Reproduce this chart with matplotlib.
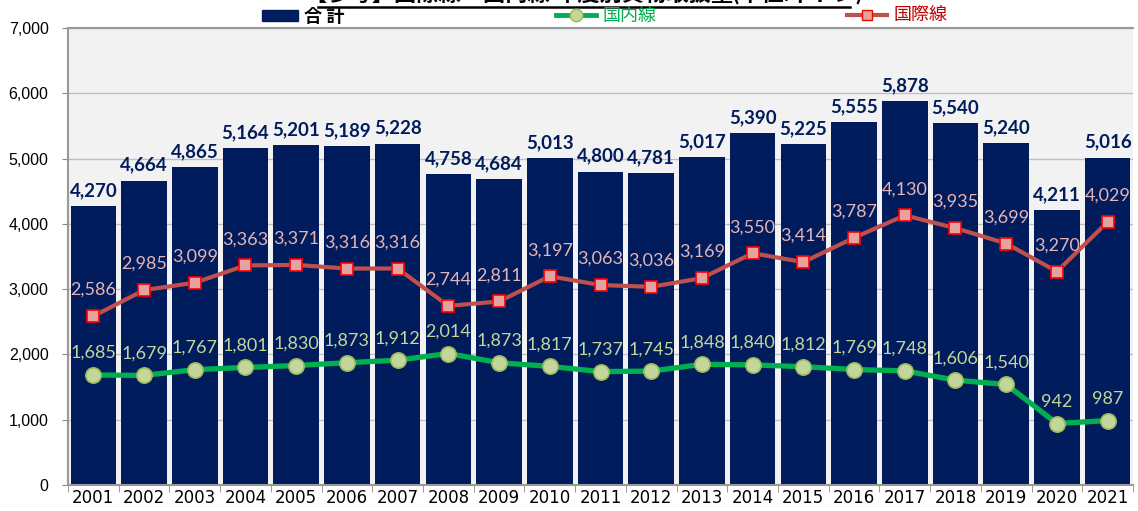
"""年度別 貨物取扱量（合計・国内線・国際線）棒グラフ＋折れ線。"""
import matplotlib
matplotlib.use("Agg")
import matplotlib.pyplot as plt
from matplotlib.lines import Line2D
from matplotlib.patches import Patch
from matplotlib.ticker import FuncFormatter, FixedLocator

plt.rcParams["font.family"] = ["Lato", "Noto Sans CJK JP", "DejaVu Sans"]

years = [str(y) for y in range(2001, 2022)]
total = [4270, 4664, 4865, 5164, 5201, 5189, 5228, 4758, 4684, 5013, 4800,
         4781, 5017, 5390, 5225, 5555, 5878, 5540, 5240, 4211, 5016]
intl = [2586, 2985, 3099, 3363, 3371, 3316, 3316, 2744, 2811, 3197, 3063,
        3036, 3169, 3550, 3414, 3787, 4130, 3935, 3699, 3270, 4029]
dom = [1685, 1679, 1767, 1801, 1830, 1873, 1912, 2014, 1873, 1817, 1737,
       1745, 1848, 1840, 1812, 1769, 1748, 1606, 1540, 942, 987]

NAVY = "#001c5c"
fig = plt.figure(figsize=(11.38, 5.11), dpi=100)
ax = fig.add_axes([68 / 1138, 26 / 511, 1065 / 1138, 457 / 511])
ax.set_facecolor("#f2f2f2")

x = list(range(len(years)))
ax.bar(x, total, width=0.9, color=NAVY, zorder=2)
ax.plot(x, intl, color="#c0504d", lw=3, marker="s", ms=8.5,
        mfc="#e6a1a1", mec="#ff0000", mew=1.2, zorder=4)
ax.plot(x, dom, color="#00b050", lw=3.8, marker="o", ms=11,
        mfc="#c3d69b", mec="#9bbb59", mew=1.2, zorder=5)

for i, v in enumerate(total):
    ax.annotate(f"{v:,}", (i, v), xytext=(0, 5), textcoords="offset points",
                ha="center", va="bottom", fontsize=13.5, fontweight="bold",
                color=NAVY, zorder=6)
for i, v in enumerate(intl):
    ax.annotate(f"{v:,}", (i, v), xytext=(0, 13), textcoords="offset points",
                ha="center", va="bottom", fontsize=13, color="#e6b4b4", zorder=6)
for i, v in enumerate(dom):
    ax.annotate(f"{v:,}", (i, v), xytext=(0, 10), textcoords="offset points",
                ha="center", va="bottom", fontsize=13, color="#c3d69b", zorder=6)

ax.set_xlim(-0.5, len(years) - 0.5)
ax.set_ylim(0, 7000)
ax.set_yticks(range(0, 7001, 1000))
ax.yaxis.set_major_formatter(FuncFormatter(lambda v, p: f"{v:,.0f}"))
ax.grid(axis="y", color="#bfbfbf", lw=1, zorder=0)
ax.set_axisbelow(True)

ax.set_xticks(x)
ax.set_xticklabels(years, family=["Liberation Sans Narrow", "DejaVu Sans"], fontsize=12)
ax.xaxis.set_minor_locator(FixedLocator([i - 0.5 for i in range(len(years) + 1)]))
ax.tick_params(axis="x", which="major", length=0, pad=3)
ax.tick_params(axis="x", which="minor", length=5, color="#888888")
ax.tick_params(axis="y", length=4, color="#888888", labelsize=11.5, pad=10)
for lab in ax.get_yticklabels():
    lab.set_family(["Liberation Sans", "DejaVu Sans"])

for side in ["left", "bottom", "top"]:
    ax.spines[side].set_color("#999999")
    ax.spines[side].set_linewidth(1.5)
ax.spines["right"].set_visible(False)

# タイトル（上端で切れている）
fig.text(0.513, 1 - 1.5 / 511, "【参考】国際線・国内線 年度別貨物取扱量(単位:千トン)",
         ha="center", va="baseline", fontsize=16, fontweight="bold", color="black")
fig.add_artist(Line2D([318 / 1138, 850 / 1138], [1 - 7 / 511, 1 - 7 / 511],
                      color="black", lw=1.8))

# 凡例
legs = [
    (Patch(color=NAVY), "合 計", "black", "bold", 262, 2.0),
    (Line2D([], [], color="#00b050", lw=3.5, marker="o", ms=9,
            mfc="#c3d69b", mec="#9bbb59"), "国内線", "#00b050", "normal", 556, 2.2),
    (Line2D([], [], color="#c0504d", lw=3, marker="s", ms=7,
            mfc="#e6a1a1", mec="#ff0000"), "国際線", "#c00000", "normal", 847, 2.2),
]
for h, lab, col, wt, px, hl in legs:
    lg = fig.legend([h], [lab], loc="center left",
                    bbox_to_anchor=(px / 1138, 1 - 16 / 511), frameon=False,
                    borderpad=0, borderaxespad=0, handlelength=hl,
                    handleheight=0.55, handletextpad=0.35,
                    prop={"size": 13, "weight": wt})
    for t in lg.get_texts():
        t.set_color(col)

fig.savefig("out.png", dpi=100, facecolor="white")
